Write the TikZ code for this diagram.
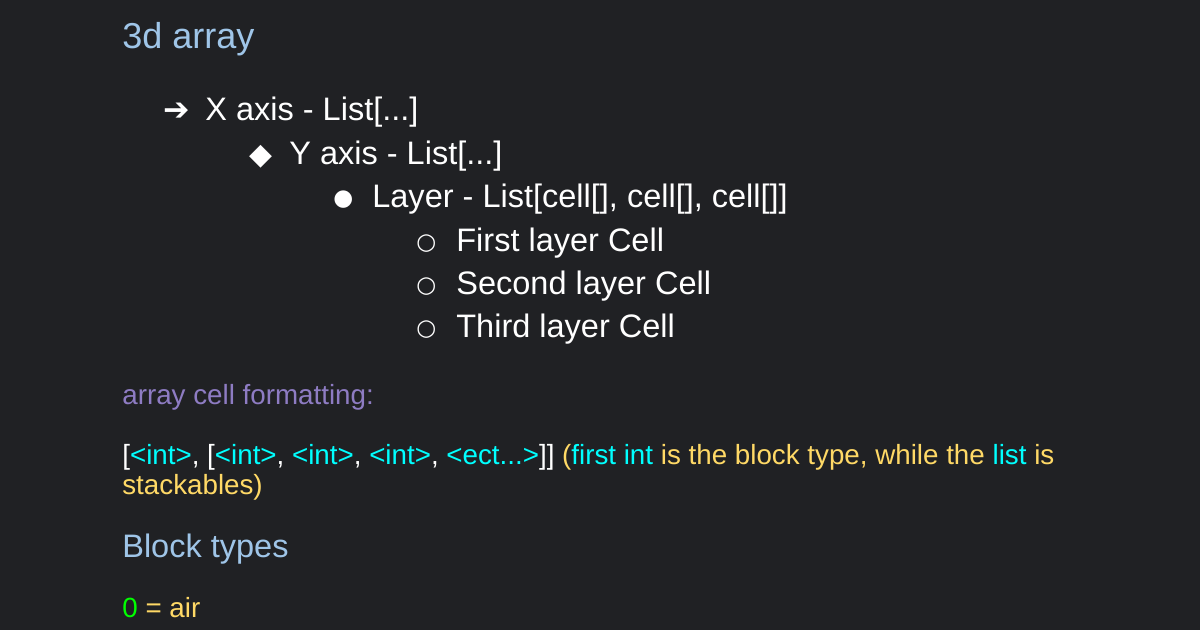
\documentclass[tikz,border=0pt]{standalone}
\usepackage{fontspec}
\setmainfont{Liberation Sans}
\newfontfamily\symfont{DejaVu Sans}
\definecolor{bgdark}{HTML}{202124}
\definecolor{headblue}{HTML}{9FC5E8}
\definecolor{notepurple}{HTML}{8E7CC3}
\definecolor{intcyan}{HTML}{00FFFF}
\definecolor{noteyellow}{HTML}{FFD966}
\definecolor{zerogreen}{HTML}{00FF00}
\tikzset{
  txt/.style={anchor=base west, inner sep=0pt, text=white, font=\fontsize{18.5}{22}\selectfont},
  head/.style={txt, text=headblue, font=\fontsize{19.5}{23}\selectfont},
  small/.style={txt, font=\fontsize{15.8}{19}\selectfont},
  sym/.style={txt, font=\symfont\fontsize{13}{16}\selectfont}
}
\begin{document}
\begin{tikzpicture}[x=0.02cm, y=-0.02cm]
  \fill[bgdark] (0,0) rectangle (1200,630);
  \useasboundingbox (0,0) rectangle (1200,630);
  \node[head, font=\fontsize{20.5}{24}\selectfont] (title) at (122,48) {3d array};
  % nested list
  \node[sym, font=\symfont\bfseries\fontsize{18}{20}\selectfont] (s1) at (163,120) {➔};
  \node[txt] (xaxis) at (205,120) {X axis - List[...]};
  \node[sym, font=\symfont\fontsize{17}{20}\selectfont] (s2) at (249,164) {◆};
  \node[sym] (s3) at (333,205) {●};
  \node[txt] (yaxis) at (289,164) {Y axis - List[...]};
  \node[txt] (layer) at (372,207) {Layer - List[cell[], cell[], cell[]]};
  \foreach \y/\t [count=\i] in {251/First, 294/Second, 337/Third} {
    \node[sym] (c\i) at (416,\y-2) {○};
    \node[txt] (cell\i) at (456,\y) {\t\ layer Cell};
  }
  \node[small, text=notepurple] (fmt) at (122,404) {array cell formatting:};
  \node[small] (fmtline) at (122,464) {[\textcolor{intcyan}{<int>}, [\textcolor{intcyan}{<int>}, \textcolor{intcyan}{<int>}, \textcolor{intcyan}{<int>}, \textcolor{intcyan}{<ect...>}]] \textcolor{noteyellow}{(\textcolor{intcyan}{first int} is the block type, while the \textcolor{intcyan}{list} is}};
  \node[small, text=noteyellow] (fmtline2) at (122,494) {stackables)};
  \node[head, font=\fontsize{18.5}{22}\selectfont] (blocks) at (122,557) {Block types};
  \node[small, text=noteyellow] (air) at (122,617) {\textcolor{zerogreen}{0} = air};
\end{tikzpicture}
\end{document}
